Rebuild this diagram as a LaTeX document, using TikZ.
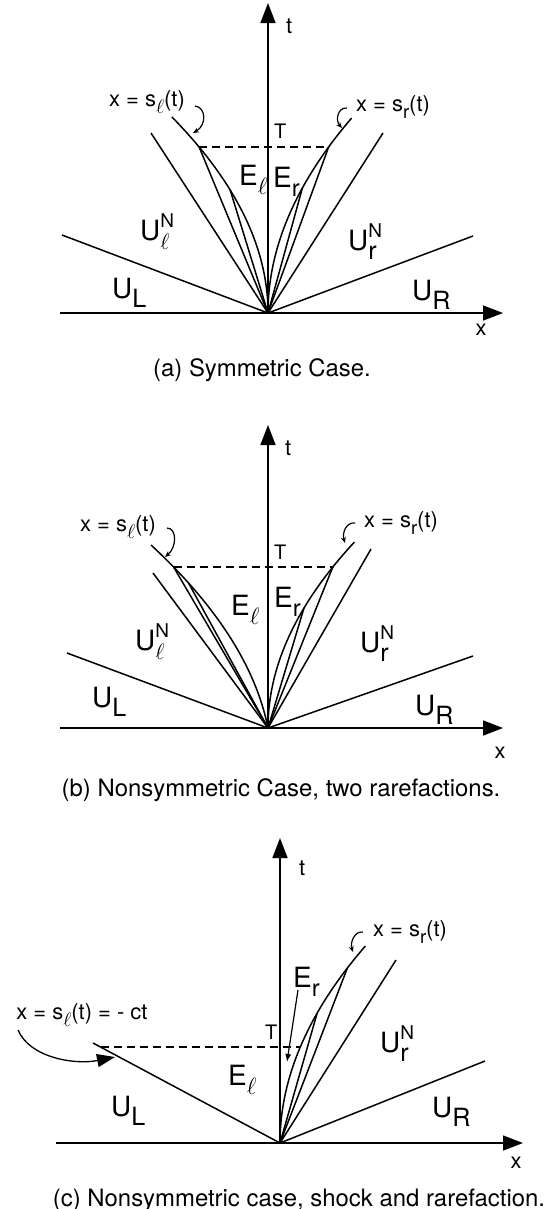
\documentclass[tikz,border=0pt]{standalone}
\usepackage{fontspec}
\usepackage{graphicx}
\setmainfont{TeX Gyre Heros}
\usetikzlibrary{arrows.meta}

% lowered subscript, near full size as in the figure
\newcommand{\lo}[2][0.85]{\raisebox{-0.33em}{\scalebox{#1}{#2}}}
\newcommand{\ellsub}{\lo[0.95]{$\ell$}}
\newcommand{\rsub}{\lo{r}}
\newcommand{\UN}[1]{U\rlap{\raisebox{0.45em}{\scalebox{0.68}{N}}}\lo[0.9]{#1}}

\tikzset{
  wave/.style={line width=1.5bp},
  axis/.style={line width=1.5bp,-{Triangle[length=20bp,width=15bp]}},
  level/.style={line width=1.3bp,dash pattern=on 8bp off 5bp},
  region/.style={inner sep=0pt,anchor=base west,font=\fontsize{28}{30}\selectfont},
  tlabel/.style={inner sep=0pt,anchor=base west,font=\fontsize{20}{22}\selectfont},
  axlabel/.style={inner sep=0pt,font=\fontsize{22}{24}\selectfont},
  curvelabel/.style={inner sep=0pt,font=\fontsize{22}{24}\selectfont},
  pointer/.style={line width=1.2bp,-{Stealth[length=6bp,width=5bp]}},
  caption/.style={inner sep=0pt,font=\fontsize{24}{26}\selectfont}
}

\begin{document}
\begin{tikzpicture}[x=1bp,y=1bp]
\useasboundingbox (0,0) rectangle (550,-1209);

%% (a) symmetric case
\begin{scope}[shift={(268,-313)}]
\coordinate (Oa) at (0,0);
% axes
\draw[axis] (-208,0) -- (235,0) coordinate (xa);
\draw[axis] (Oa) -- (0,310) coordinate (ta);
\node[axlabel] (xa-lbl) at (213,-17) {x};
\node[tlabel,font=\fontsize{22}{24}\selectfont] (ta-lbl) at (18,280) {t};
% outer waves
\draw[wave] (Oa) -- (-206,78);
\draw[wave] (Oa) -- (-117,180);
\draw[wave] (Oa) -- (115,180);
\draw[wave] (Oa) -- (205,77);
% rarefaction fans
\draw[wave] plot[domain=0:19.6,samples=40] ({-0.25*\x*\x},{10*\x});
\draw[wave] plot[domain=0:19.5,samples=40] ({0.22*\x*\x},{10*\x});
\foreach \u in {12.3,16.6}
{
\draw[wave] (Oa) -- ({-0.25*\u*\u},{10*\u});
}
\foreach \u in {12.5,16.6}
{
\draw[wave] (Oa) -- ({0.22*\u*\u},{10*\u});
}
% time T
\draw[level] ({-0.25*16.6*16.6},166) -- ({0.22*16.6*16.6},166);
\node[tlabel] (Ta) at (6,174.5) {T};
% states
\node[region] (ULa) at (-156,15) {U\lo[0.9]{L}};
\node[region] (URa) at (144,13) {U\lo[0.9]{R}};
\node[region] (ulNa) at (-128,73) {\UN{$\ell$}};
\node[region] (urNa) at (80,63) {\UN{r}};
\node[region] (Ela) at (-29,128) {E\ellsub};
\node[region] (Era) at (5,126) {E\rsub};
% curve labels
\node[curvelabel] (sla) at (-121,211) {x = s\ellsub(t)};
\node[curvelabel] (sra) at (125,206) {x = s\rsub(t)};
\draw[pointer] (-73,207) .. controls (-62,206) and (-61,188) .. (-75,180);
\draw[pointer] (79,205) .. controls (70,206) and (67,193) .. (74,185);
\node[caption] (capa) at (-6,-57) {(a) Symmetric Case.};
\end{scope}

%% (b) two rarefactions
\begin{scope}[shift={(268,-728)}]
\coordinate (Ob) at (0,0);
% axes
\draw[axis] (-208,0) -- (235,0) coordinate (xb);
\draw[axis] (Ob) -- (0,303) coordinate (tb);
\node[axlabel] (xb-lbl) at (232,-25) {x};
\node[tlabel,font=\fontsize{22}{24}\selectfont] (tb-lbl) at (17,273) {t};
% outer waves
\draw[wave] (Ob) -- (-201,75);
\draw[wave] (Ob) -- (-115,155);
\draw[wave] (Ob) -- (103,179);
\draw[wave] (Ob) -- (205,72);
% rarefaction fans
\draw[wave] plot[domain=0:18.3,samples=40] ({-2*\x-0.24*\x*\x},{10*\x});
\draw[wave] plot[domain=0:18.6,samples=40] ({0.25*\x*\x},{10*\x});
\foreach \u in {14.5,16.1}
{
\draw[wave] (Ob) -- ({-2*\u-0.24*\u*\u},{10*\u});
}
\foreach \u in {12,16.1}
{
\draw[wave] (Ob) -- ({0.25*\u*\u},{10*\u});
}
% time T
\draw[level] ({-2*16.1-0.24*16.1*16.1},161) -- ({0.25*16.1*16.1},161);
\node[tlabel] (Tb) at (6,168.5) {T};
% states
\node[region] (ULb) at (-176,21) {U\lo[0.9]{L}};
\node[region] (URb) at (147,13) {U\lo[0.9]{R}};
\node[region] (ulNb) at (-133,78) {\UN{$\ell$}};
\node[region] (urNb) at (92,76) {\UN{r}};
\node[region] (Elb) at (-37,113) {E\ellsub};
\node[region] (Erb) at (6,121) {E\rsub};
% curve labels
\node[curvelabel] (slb) at (-150,201) {x = s\ellsub(t)};
\node[curvelabel] (srb) at (133,205) {x = s\rsub(t)};
\draw[pointer] (-101,200) .. controls (-91,200) and (-91,181) .. (-103,171);
\draw[pointer] (87,205) .. controls (78,206) and (74,195) .. (77,185);
\node[caption] (capb) at (13,-62) {(b) Nonsymmetric Case, two rarefactions.};
\end{scope}

%% (c) shock and rarefaction
\begin{scope}[shift={(280,-1143)}]
\coordinate (Oc) at (0,0);
% axes
\draw[axis] (-224,0) -- (243,0) coordinate (xc);
\draw[axis] (Oc) -- (0,305) coordinate (tc);
\node[axlabel] (xc-lbl) at (236,-20) {x};
\node[tlabel,font=\fontsize{22}{24}\selectfont] (tc-lbl) at (19,268) {t};
% shock and outer waves
\draw[wave] (Oc) -- (-187,100) coordinate (shk);
\draw[wave] (Oc) -- (116,183);
\draw[wave] (Oc) -- (205,82);
% rarefaction fan
\draw[wave] plot[domain=0:19.7,samples=40] ({0.22*\x*\x},{10*\x});
\foreach \u in {13,17.5}
{
\draw[wave] (Oc) -- ({0.22*\u*\u},{10*\u});
}
% time T
\draw[level] (-179.5,96) -- ({0.22*9.6*9.6},96);
\node[tlabel] (Tc) at (-15,103.5) {T};
% states
\node[region] (ULc) at (-169,27) {U\lo[0.9]{L}};
\node[region] (URc) at (152,26) {U\lo[0.9]{R}};
\node[region] (urNc) at (100,91) {\UN{r}};
\node[region] (Elc) at (-52,58) {E\ellsub};
\node[region] (Erc) at (13,156) {E\rsub};
\draw[line width=1.2bp,-{Latex[length=8bp,width=6bp]}] (18,153) -- (7,81);
% curve labels
\node[curvelabel] (slc) at (-198,128) {x = s\ellsub(t) = - ct};
\node[curvelabel] (src) at (130,211) {x = s\rsub(t)};
\draw[line width=1.3bp,-{Triangle[length=18bp,width=13bp]}] (-262,113) .. controls (-250,85) and (-205,78) .. (-165,86);
\draw[pointer] (83,211) .. controls (74,212) and (70,200) .. (73,191);
\node[caption] (capc) at (19,-57) {(c) Nonsymmetric case, shock and rarefaction.};
\end{scope}
\end{tikzpicture}
\end{document}
